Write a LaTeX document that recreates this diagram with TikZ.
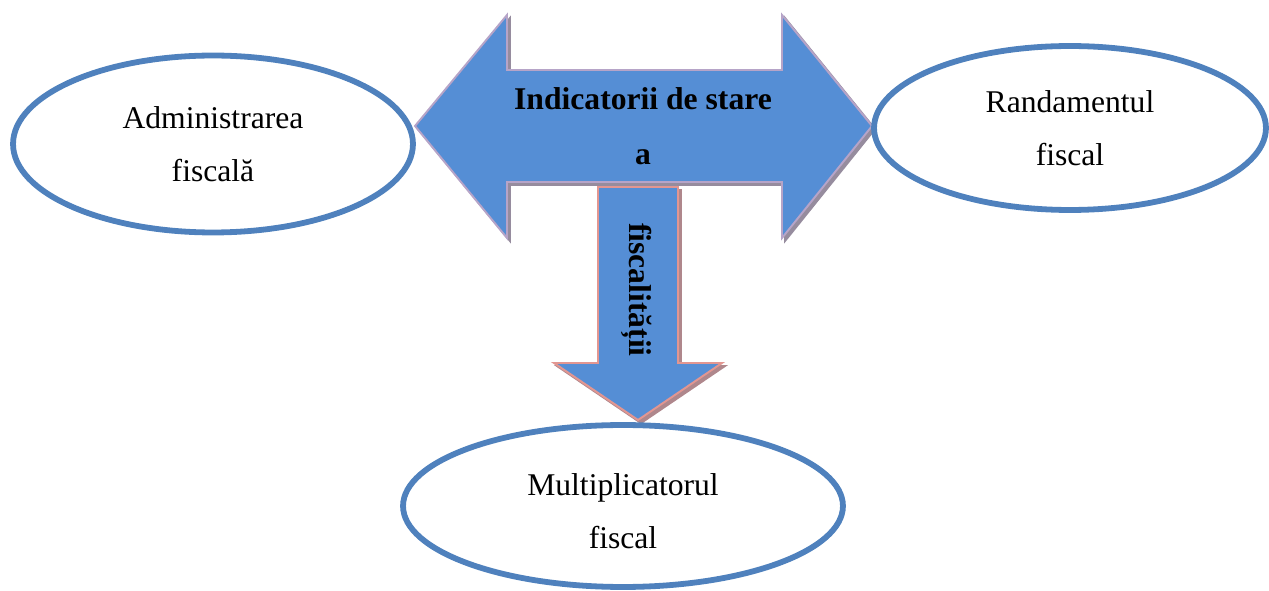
\documentclass[tikz,border=0pt]{standalone}
\usepackage{fontspec}
\setmainfont{Liberation Serif}
\usetikzlibrary{shapes}
\definecolor{arrowfill}{RGB}{85,142,213}
\definecolor{ovalline}{RGB}{79,129,189}
\definecolor{lilacline}{RGB}{182,164,200}
\definecolor{pinkline}{RGB}{226,150,145}
\definecolor{shadowgrey}{RGB}{150,140,158}
\definecolor{shadowbrown}{RGB}{175,135,140}
\tikzstyle{oval} = [draw=ovalline, line width=3.3pt, fill=white, ellipse,
    align=center, inner sep=0pt, font=\fontsize{18}{30}\selectfont]
\tikzstyle{harrow} = [fill=arrowfill, draw=lilacline, line width=1.1pt]
\tikzstyle{varrow} = [fill=arrowfill, draw=pinkline, line width=1.1pt]
\tikzstyle{backshadow} = [fill=shadowgrey, draw=shadowgrey, line width=1.1pt]
\tikzstyle{arrowtext} = [font=\bfseries\fontsize{18}{31}\selectfont, inner sep=0pt]

\begin{document}
\begin{tikzpicture}[x=0.02cm, y=-0.02cm]
\useasboundingbox (0,0) rectangle (1269,591);

% horizontal double arrow
\coordinate (LT) at (415,126);
\coordinate (LH1) at (507,15);
\coordinate (LS1) at (507,70);
\coordinate (RS1) at (782,70);
\coordinate (RH1) at (782,15);
\coordinate (RT) at (872,126);
\coordinate (RH2) at (782,238);
\coordinate (RS2) at (782,182);
\coordinate (LS2) at (507,182);
\coordinate (LH2) at (507,238);

% down arrow
\coordinate (DS1) at (598,187);
\coordinate (DS2) at (678,187);
\coordinate (DH1) at (554,363);
\coordinate (DH2) at (722,363);
\coordinate (DT) at (638,420);

\begin{scope}[transform canvas={shift={(3,3)}}]
\draw[backshadow] (LT) -- (LH1) -- (LS1) -- (RS1) -- (RH1) -- (RT) -- (RH2)
    -- (RS2) -- (LS2) -- (LH2) -- cycle;
\draw[backshadow, fill=shadowbrown, draw=shadowbrown] (DS1) -- (DS2)
    -- (DS2 |- DH2) -- (DH2) -- (DT) -- (DH1) -- (DS1 |- DH1) -- cycle;
\end{scope}
\draw[harrow] (LT) -- (LH1) -- (LS1) -- (RS1) -- (RH1) -- (RT) -- (RH2)
    -- (RS2) -- (LS2) -- (LH2) -- cycle;
\draw[varrow] (DS1) -- (DS2) -- (DS2 |- DH2) -- (DH2) -- (DT) -- (DH1)
    -- (DS1 |- DH1) -- cycle;

\node[arrowtext, anchor=base] (title1) at (643,110) {Indicatorii de stare};
\node[arrowtext, anchor=base] (title2) at (643,165) {a};
\node[arrowtext, rotate=-90] (title3) at (637,290) {fiscalității};

% the three ovals
\node[oval, minimum width=8cm, minimum height=3.54cm] (adm) at (213,144)
    {Administrarea\\fiscală};
\node[oval, minimum width=7.84cm, minimum height=3.28cm] (rand) at (1070,128)
    {Randamentul\\fiscal};
\node[oval, minimum width=8.8cm, minimum height=3.24cm] (mult) at (623,506)
    {\rule{0pt}{18pt}Multiplicatorul\\fiscal};
\end{tikzpicture}
\end{document}
